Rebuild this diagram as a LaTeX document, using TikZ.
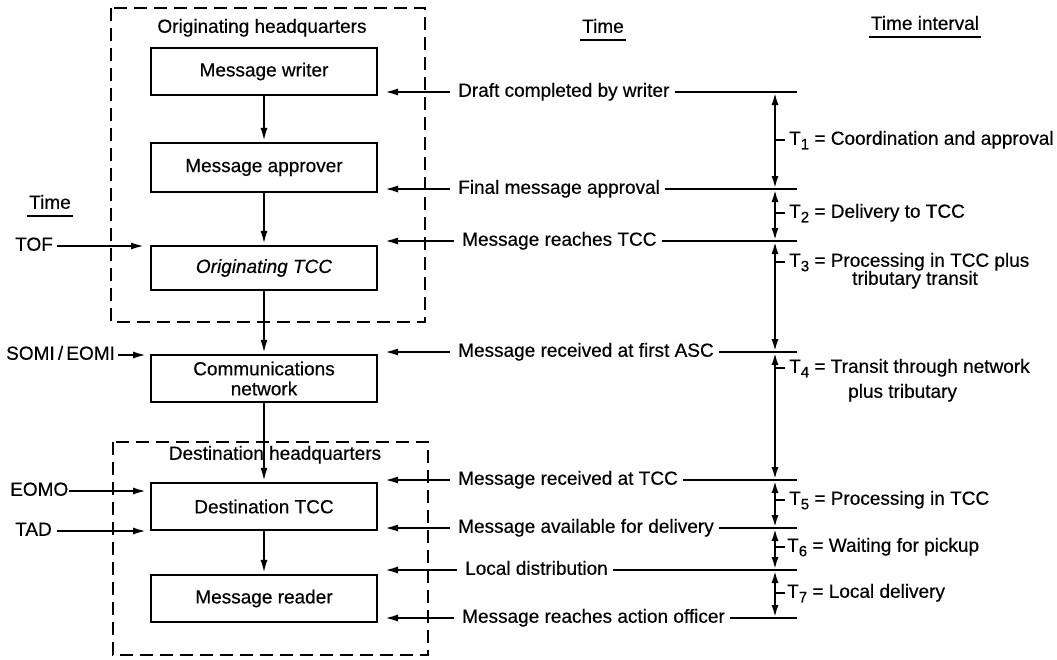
\documentclass[tikz,border=0pt]{standalone}
\usepackage{fontspec}
\setmainfont{Liberation Sans}[FakeBold=0.4, ItalicFeatures={FakeBold=0.4}]
\usetikzlibrary{arrows.meta}
\newcommand{\tsub}[1]{\raisebox{-4.5pt}{\fontsize{15}{15}\selectfont #1}}
\begin{document}
\begin{tikzpicture}[x=1pt,y=-1pt,
  every node/.style={font=\fontsize{19}{22}\selectfont, inner sep=0pt},
  lbl/.style={text height=13.5pt, text depth=4pt},
  box/.style={draw, line width=2.4pt, minimum width=226pt, align=center},
  zone/.style={draw, line width=2pt, dash pattern=on 13pt off 7pt},
  arr/.style={line width=2.4pt, -{Latex[length=14pt,width=7pt]}},
  darr/.style={line width=2.4pt, {Latex[length=13pt,width=7pt]}-{Latex[length=13pt,width=7pt]}},
  rule/.style={line width=2.4pt},
  uline/.style={line width=1.8pt},
]
\useasboundingbox (0,0) rectangle (1057,659);

% dashed headquarters zones
\draw[zone] (111,8) rectangle (425,322);
\draw[zone] (113,442) rectangle (428,655);
\node[lbl] (orighq) at (262,28) {Originating headquarters};
\node[lbl] (desthq) at (275,455) {Destination headquarters};

% boxes
\node[box, minimum height=47pt] (writer) at (264,71.5) {Message writer};
\node[box, minimum height=49pt] (approver) at (264,167.5) {Message approver};
\node[box, minimum height=44pt, font=\fontsize{19}{22}\selectfont\itshape] (otcc) at (264,268) {Originating TCC};
\node[box, minimum height=47pt, font=\fontsize{19}{20}\selectfont] (net) at (264,378.5) {Communications\\network};
\node[box, minimum height=47pt] (dtcc) at (264,506.5) {Destination TCC};
\node[box, minimum height=47pt] (reader) at (264,598.5) {Message reader};

\draw[arr] (writer) -- (approver);
\draw[arr] (approver) -- (otcc);
\draw[arr] (otcc) -- (net);
\draw[arr] (net) -- (dtcc);
\draw[arr] (dtcc) -- (reader);

% left time column
\node[lbl] (ltime) at (50,204) {Time};
\draw[uline] ([xshift=-2pt,yshift=-3pt]ltime.south west) -- ([xshift=2pt,yshift=-3pt]ltime.south east);
\node[lbl, anchor=west] (tof) at (15,246) {TOF};
\node[lbl, anchor=west] (somi) at (6,355) {SOMI\,/\,EOMI};
\node[lbl, anchor=west] (eomo) at (10,491) {EOMO};
\node[lbl, anchor=west] (tad) at (15,531) {TAD};
\coordinate (tofend) at (145,246);
\coordinate (somiend) at (147,355);
\coordinate (eomoend) at (147,491);
\coordinate (tadend) at (147,531);
\draw[arr] ([xshift=4pt]tof.east) -- (tofend);
\draw[arr] ([xshift=3pt]somi.east) -- (somiend);
\draw[arr] ([xshift=1pt]eomo.east) -- (eomoend);
\draw[arr] ([xshift=5pt]tad.east) -- (tadend);

% headers
\node[lbl] (mtime) at (603,28) {Time};
\draw[uline] ([xshift=-2pt,yshift=-3pt]mtime.south west) -- ([xshift=2pt,yshift=-3pt]mtime.south east);
\node[lbl] (tint) at (925,25) {Time interval};
\draw[uline] ([xshift=-2pt,yshift=-3pt]tint.south west) -- ([xshift=2pt,yshift=-3pt]tint.south east);

% time events (rows)
\node[lbl, anchor=west] (r1) at (458,92) {Draft completed by writer};
\node[lbl, anchor=west] (r2) at (458,189) {Final message approval};
\node[lbl, anchor=west] (r3) at (462,241) {Message reaches TCC};
\node[lbl, anchor=west] (r4) at (458,352) {Message received at first ASC};
\node[lbl, anchor=west] (r5) at (458,480) {Message received at TCC};
\node[lbl, anchor=west] (r6) at (458,528) {Message available for delivery};
\node[lbl, anchor=west] (r7) at (465,570) {Local distribution};
\node[lbl, anchor=west] (r8) at (462,618) {Message reaches action officer};

\coordinate (a1) at (384,92);
\coordinate (a2) at (384,189);
\coordinate (a3) at (384,241);
\coordinate (a4) at (384,352);
\coordinate (a5) at (384,480);
\coordinate (a6) at (384,528);
\coordinate (a7) at (384,570);
\coordinate (a8) at (384,618);

\coordinate (k1) at (797,92);
\coordinate (k2) at (797,189);
\coordinate (k3) at (797,241);
\coordinate (k4) at (797,352);
\coordinate (k5) at (797,480);
\coordinate (k6) at (797,528);
\coordinate (k7) at (797,570);
\coordinate (k8) at (797,618);

\coordinate (t1) at (775,92);
\coordinate (t2) at (775,189);
\coordinate (t3) at (775,241);
\coordinate (t4) at (775,352);
\coordinate (t5) at (775,480);
\coordinate (t6) at (775,528);
\coordinate (t7) at (775,570);
\coordinate (t8) at (775,618);

\foreach \i in {1,...,8}{
  \draw[arr] ([xshift=-8pt]r\i.west) -- (a\i);
  \draw[rule] ([xshift=5pt]r\i.east) -- (k\i);
}

% timeline double arrows
\draw[darr] (t1) -- (t2);
\draw[darr] (t2) -- (t3);
\draw[darr] (t3) -- (t4);
\draw[darr] (t4) -- (t5);
\draw[darr] (t5) -- (t6);
\draw[darr] (t6) -- (t7);
\draw[darr] (t7) -- (t8);

% interval labels
\foreach \n/\y in {1/140,2/213,3/262,4/368,5/500,6/547,7/593}{
  \coordinate (d\n) at (775,\y);
  \coordinate (e\n) at (785,\y);
  \draw[line width=1.8pt] (d\n) -- (e\n);
}
\node[lbl, anchor=west] (i1) at (789,140) {T\tsub{1} = Coordination and approval};
\node[lbl, anchor=west] (i2) at (789,213) {T\tsub{2} = Delivery to TCC};
\node[lbl, anchor=west] (i3) at (789,262) {T\tsub{3} = Processing in TCC plus};
\node[lbl, anchor=west] (i3b) at (852,280) {tributary transit};
\node[lbl, anchor=west] (i4) at (789,368) {T\tsub{4} = Transit through network};
\node[lbl, anchor=west] (i4b) at (848,393) {plus tributary};
\node[lbl, anchor=west] (i5) at (789,500) {T\tsub{5} = Processing in TCC};
\node[lbl, anchor=west] (i6) at (787,547) {T\tsub{6} = Waiting for pickup};
\node[lbl, anchor=west] (i7) at (787,593) {T\tsub{7} = Local delivery};
\end{tikzpicture}
\end{document}
